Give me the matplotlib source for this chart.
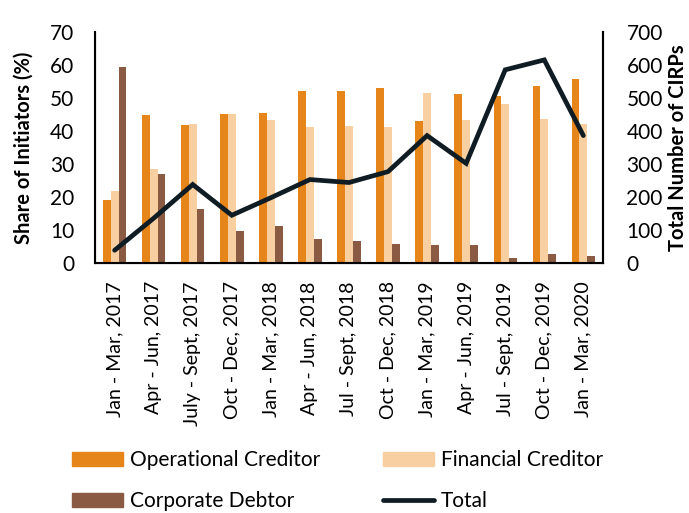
import matplotlib
matplotlib.use("Agg")
import matplotlib.pyplot as plt
import numpy as np
from matplotlib.lines import Line2D
from matplotlib.patches import Patch

plt.rcParams['font.family'] = ['Lato', 'DejaVu Sans']

categories = ["Jan - Mar, 2017", "Apr - Jun, 2017", "July - Sept, 2017", "Oct - Dec, 2017",
              "Jan - Mar, 2018", "Apr - Jun, 2018", "Jul - Sept, 2018", "Oct - Dec, 2018",
              "Jan - Mar, 2019", "Apr - Jun, 2019", "Jul - Sept, 2019", "Oct - Dec, 2019",
              "Jan - Mar, 2020"]
operational = [19, 44.8, 41.7, 45.2, 45.5, 52, 52.1, 52.9, 43, 51.2, 50.6, 53.6, 55.7]
financial = [21.7, 28.5, 42.2, 45.2, 43.4, 41.1, 41.5, 41.2, 51.5, 43.3, 48.1, 43.6, 42.2]
corporate = [59.5, 27, 16.3, 9.7, 11.2, 7.4, 6.7, 5.8, 5.6, 5.6, 1.5, 2.9, 2.3]
total = [39, 136, 238, 145, 198, 253, 244, 277, 386, 302, 585, 615, 386]

c_op = "#E6851A"
c_fin = "#F7CFA0"
c_corp = "#8B5A42"
c_tot = "#0F1C24"

fig = plt.figure(figsize=(6.89, 5.13), dpi=100)
ax = fig.add_axes([0.138, 0.487, 0.737, 0.451])
x = np.arange(len(categories))
w = 0.2
ax.bar(x - w, operational, w, color=c_op)
ax.bar(x, financial, w, color=c_fin)
ax.bar(x + w, corporate, w, color=c_corp)
ax.set_xlim(-0.5, len(categories) - 0.5)
ax.set_ylim(0, 70)
ax.set_yticks(range(0, 71, 10))
ax.set_xticks(x)
ax.set_xticklabels(categories, rotation=90, fontsize=14)
ax.tick_params(axis='y', labelsize=15, length=0, pad=15)
ax.tick_params(axis='x', length=0, pad=13)
ax.set_ylabel("Share of Initiators (%)", fontsize=14.5, fontweight='bold', labelpad=12)
ax.spines['top'].set_visible(False)
for s in ['left', 'right', 'bottom']:
    ax.spines[s].set_linewidth(1.5)
    ax.spines[s].set_color('black')

ax2 = ax.twinx()
ax2.plot(x, total, color=c_tot, linewidth=3.4, solid_capstyle='round', solid_joinstyle='miter')
ax2.set_ylim(0, 700)
ax2.set_yticks(range(0, 701, 100))
ax2.tick_params(axis='y', labelsize=15, length=0, pad=17)
ax2.set_ylabel("Total Number of CIRPs", fontsize=14.5, fontweight='bold', labelpad=4)
ax2.spines['top'].set_visible(False)
ax2.spines['right'].set_linewidth(1.5)

handles = [Patch(color=c_op), Patch(color=c_corp), Patch(color=c_fin),
           Line2D([0], [0], color=c_tot, linewidth=3.4, solid_capstyle='round')]
labels = ["Operational Creditor", "Corporate Debtor", "Financial Creditor", "Total"]
fig.legend(handles, labels, loc='lower left', bbox_to_anchor=(0.1045, 0.004), ncol=2,
           frameon=False, fontsize=15, handlelength=2.45, handleheight=0.67,
           columnspacing=3.0, handletextpad=0.33, labelspacing=1.0,
           borderpad=0, borderaxespad=0)

fig.savefig("out.png", dpi=100)
